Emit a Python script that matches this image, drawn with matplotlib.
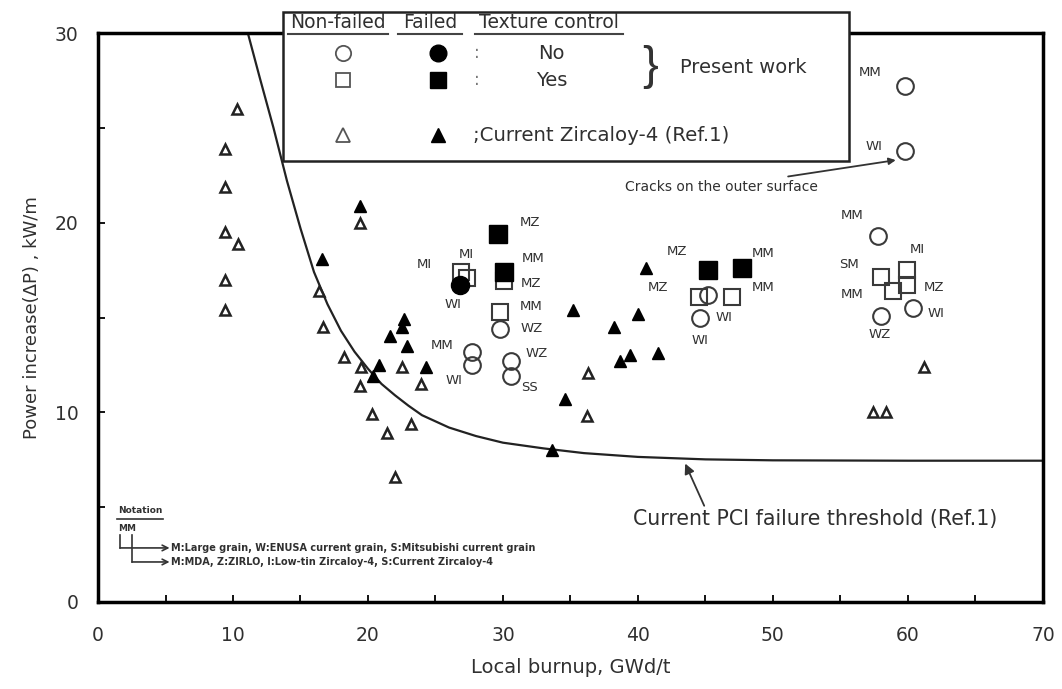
import numpy as np
import matplotlib
matplotlib.use('Agg')
import matplotlib.pyplot as plt
from matplotlib.patches import Rectangle
from matplotlib.ticker import MultipleLocator

plt.rcParams['font.family'] = ['DejaVu Sans']

# 数据: 当前 PCI 失效阈值曲线
curve_x = [11.1, 12, 13, 14, 15, 16, 17, 18, 19, 20, 21, 22, 23, 24, 26, 28, 30, 33, 36, 40, 45, 50, 60, 70]
curve_y = [30.0, 27.6, 25.0, 22.2, 19.7, 17.4, 15.7, 14.3, 13.2, 12.3, 11.5, 10.9, 10.35, 9.85, 9.2, 8.75, 8.4, 8.1,
           7.85, 7.65, 7.52, 7.47, 7.45, 7.45]

# Zircaloy-4 (Ref.1) 未失效 / 失效
tri_open_x = [10.3, 9.4, 9.4, 9.4, 10.4, 9.4, 9.4, 19.4, 16.4, 16.7, 18.2, 19.5, 19.4, 22.5, 20.3, 21.4, 23.2, 22.0,
              23.9, 36.3, 36.2, 57.4, 58.4, 61.2]
tri_open_y = [26.0, 23.9, 21.9, 19.5, 18.9, 17.0, 15.4, 20.0, 16.4, 14.5, 12.9, 12.4, 11.4, 12.4, 9.9, 8.9, 9.4, 6.6,
              11.5, 12.1, 9.8, 10.0, 10.0, 12.4]
tri_fill_x = [19.4, 16.6, 20.8, 20.4, 21.6, 22.9, 22.7, 22.5, 24.3, 35.2, 38.2, 40.0, 40.6, 38.7, 39.4, 41.5, 34.6, 33.6]
tri_fill_y = [20.9, 18.1, 12.5, 11.9, 14.0, 13.5, 14.9, 14.5, 12.4, 15.4, 14.5, 15.2, 17.6, 12.7, 13.0, 13.15, 10.7, 8.0]

# 本研究: 圆 = 无织构控制, 方 = 有织构控制
circ_open_x = [29.8, 27.7, 27.7, 30.6, 30.6, 45.2, 44.6, 59.8, 59.8, 57.8, 60.4, 58.0]
circ_open_y = [14.4, 13.2, 12.5, 12.7, 11.9, 16.2, 15.0, 27.2, 23.8, 19.3, 15.5, 15.1]
circ_fill_x = [26.8]
circ_fill_y = [16.7]
sq_open_x = [26.9, 27.3, 30.1, 29.8, 44.5, 47.0, 58.0, 59.9, 59.9, 58.9]
sq_open_y = [17.4, 17.1, 16.9, 15.3, 16.1, 16.1, 17.15, 17.5, 16.7, 16.4]
sq_fill_x = [29.6, 30.1, 45.2, 47.7]
sq_fill_y = [19.4, 17.4, 17.5, 17.6]

# 点标签
lab_text = ['MM', 'WI', 'MM', 'MI', 'SM', 'MM', 'MZ', 'WI', 'WZ',
            'MZ', 'MM', 'MZ', 'MM', 'WI', 'WI',
            'MZ', 'MI', 'MI', 'MM', 'MZ', 'WI', 'MM', 'WZ', 'MM', 'WZ', 'WI', 'SS']
lab_x = [57.2, 57.5, 55.9, 60.7, 55.6, 55.9, 61.9, 62.1, 57.9,
         42.9, 49.3, 41.5, 49.3, 46.4, 44.6,
         32.0, 27.3, 24.2, 32.2, 32.1, 26.3, 32.1, 32.1, 25.5, 32.5, 26.4, 32.0]
lab_y = [27.9, 24.0, 20.4, 18.6, 17.8, 16.2, 16.6, 15.2, 14.1,
         18.5, 18.4, 16.6, 16.6, 15.0, 13.8,
         20.0, 18.3, 17.8, 18.1, 16.8, 15.7, 15.6, 14.4, 13.5, 13.1, 11.7, 11.3]

ec = '#3a3a3a'
tc = '#303030'

fig = plt.figure(figsize=(10.62, 6.89), dpi=100)
ax = fig.add_axes([0.0923, 0.1263, 0.8897, 0.8257])
ax.set_xlim(0, 70)
ax.set_ylim(0, 30)

ax.plot(curve_x, curve_y, color='#222222', lw=1.6, zorder=2)

ax.plot(tri_open_x, tri_open_y, '^', ms=7, mfc='white', mec='#222222', mew=1.8, ls='none', zorder=4)
ax.plot(tri_fill_x, tri_fill_y, '^', ms=8, mfc='black', mec='black', ls='none', zorder=4)
ax.plot(sq_open_x, sq_open_y, 's', ms=12, mfc='none', mec=ec, mew=1.5, ls='none', zorder=4)
ax.plot(sq_fill_x, sq_fill_y, 's', ms=13, mfc='black', mec='black', ls='none', zorder=4)
ax.plot(circ_open_x, circ_open_y, 'o', ms=12, mfc='none', mec=ec, mew=1.5, ls='none', zorder=4)
ax.plot(circ_fill_x, circ_fill_y, 'o', ms=13, mfc='black', mec='black', ls='none', zorder=5)

for t, x, y in zip(lab_text, lab_x, lab_y):
    ax.text(x, y, t, fontsize=9.5, color=tc, ha='center', va='center', zorder=6)

# 图例框
ax.add_patch(Rectangle((13.7, 23.25), 41.9, 7.85, fc='white', ec='#222222', lw=1.8, clip_on=False, zorder=3))
hdr = [('Non-failed', 17.8, 14.07, 21.48), ('Failed', 24.6, 22.2, 27.0), ('Texture control', 33.4, 27.9, 38.9)]
for t, xc, x0, x1 in hdr:
    ax.text(xc, 30.55, t, fontsize=13.5, color=tc, ha='center', va='center', clip_on=False, zorder=6)
    ax.plot([x0, x1], [29.93, 29.93], color='#444444', lw=1.5, clip_on=False, zorder=6)
ax.plot([18.15], [28.94], 'o', ms=11, mfc='white', mec='#555555', mew=1.3, clip_on=False, zorder=6)
ax.plot([25.2], [28.94], 'o', ms=12, mfc='black', mec='black', clip_on=False, zorder=6)
ax.plot([18.15], [27.52], 's', ms=10, mfc='white', mec='#555555', mew=1.3, clip_on=False, zorder=6)
ax.plot([25.2], [27.52], 's', ms=11, mfc='black', mec='black', clip_on=False, zorder=6)
ax.plot([18.15], [24.6], '^', ms=10, mfc='white', mec='#555555', mew=1.3, clip_on=False, zorder=6)
ax.plot([25.2], [24.6], '^', ms=10, mfc='black', mec='black', clip_on=False, zorder=6)
ax.text(28.1, 28.94, ':', fontsize=12, color='#777777', ha='center', va='center', zorder=6)
ax.text(28.1, 27.52, ':', fontsize=12, color='#777777', ha='center', va='center', zorder=6)
ax.text(33.6, 28.94, 'No', fontsize=14, color=tc, ha='center', va='center', zorder=6)
ax.text(33.6, 27.52, 'Yes', fontsize=14, color=tc, ha='center', va='center', zorder=6)
ax.text(40.9, 28.2, '}', fontsize=34, color='#333333', ha='center', va='center', fontweight='light',
        family='Liberation Sans', zorder=6)
ax.text(43.1, 28.2, 'Present work', fontsize=14, color=tc, ha='left', va='center', zorder=6)
ax.text(27.8, 24.6, ';Current Zircaloy-4 (Ref.1)', fontsize=14.2, color=tc, ha='left', va='center', zorder=6)

# 注释
ax.annotate('Cracks on the outer surface', xy=(59.1, 23.3), xytext=(53.3, 21.9), fontsize=10, color=tc,
            ha='right', va='center',
            arrowprops=dict(arrowstyle='-|>', color='#333333', lw=1.3, shrinkA=2, shrinkB=0))
ax.annotate('Current PCI failure threshold (Ref.1)', xy=(43.5, 7.3), xytext=(53.1, 4.4), fontsize=14.8,
            color=tc, ha='center', va='center',
            arrowprops=dict(arrowstyle='-|>', color='#333333', lw=1.3, shrinkA=0, shrinkB=0,
                            relpos=(0.2, 1.0)))

# 记号说明
ax.text(1.48, 4.8, 'Notation', fontsize=6.5, fontweight='bold', color=tc, ha='left', va='center')
ax.plot([1.41, 4.8], [4.38, 4.38], color='#333333', lw=1.2)
ax.text(1.48, 3.85, 'MM', fontsize=6.5, fontweight='bold', color=tc, ha='left', va='center')
ax.plot([1.63, 1.63], [3.53, 2.85], color='#333333', lw=1.2)
ax.plot([2.52, 2.52], [3.53, 2.11], color='#333333', lw=1.2)
ax.annotate('', xy=(5.3, 2.85), xytext=(1.63, 2.85),
            arrowprops=dict(arrowstyle='->', color='#333333', lw=1.2, shrinkA=0, shrinkB=0))
ax.annotate('', xy=(5.3, 2.11), xytext=(2.52, 2.11),
            arrowprops=dict(arrowstyle='->', color='#333333', lw=1.2, shrinkA=0, shrinkB=0))
ax.text(5.4, 2.85, 'M:Large grain, W:ENUSA current grain, S:Mitsubishi current grain', fontsize=7,
        fontweight='bold', color=tc, ha='left', va='center')
ax.text(5.4, 2.11, 'M:MDA, Z:ZIRLO, I:Low-tin Zircaloy-4, S:Current Zircaloy-4', fontsize=7,
        fontweight='bold', color=tc, ha='left', va='center')

ax.xaxis.set_major_locator(MultipleLocator(10))
ax.xaxis.set_minor_locator(MultipleLocator(5))
ax.yaxis.set_major_locator(MultipleLocator(10))
ax.yaxis.set_minor_locator(MultipleLocator(5))
ax.tick_params(which='both', direction='in', length=5, width=1.3, labelsize=13.5, labelcolor=tc)
ax.tick_params(axis='x', pad=17)
ax.tick_params(axis='y', pad=14)
for s in ax.spines.values():
    s.set_linewidth(2.5)

ax.set_xlabel('Local burnup, GWd/t', fontsize=14, color=tc, labelpad=10)
ax.set_ylabel('Power increase(ΔP) , kW/m', fontsize=13, color=tc, labelpad=10)

fig.savefig('out.png', dpi=100)
